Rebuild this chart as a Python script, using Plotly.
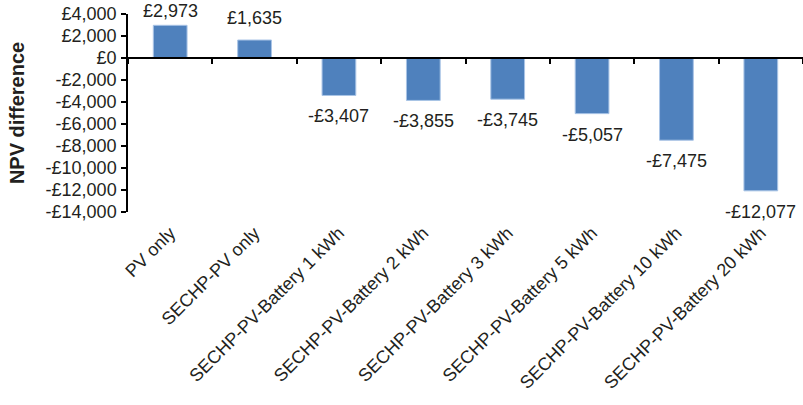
import plotly.graph_objects as go

categories = ["PV only", "SECHP-PV only", "SECHP-PV-Battery 1 kWh", "SECHP-PV-Battery 2 kWh",
              "SECHP-PV-Battery 3 kWh", "SECHP-PV-Battery 5 kWh", "SECHP-PV-Battery 10 kWh",
              "SECHP-PV-Battery 20 kWh"]
npv_diff = [2973, 1635, -3407, -3855, -3745, -5057, -7475, -12077]
y_ticks = list(range(-14000, 4001, 2000))


def gbp(v):
    return ("-£" if v < 0 else "£") + f"{abs(v):,}"


y_ticktext = [gbp(v) for v in y_ticks]
labels = [gbp(v) for v in npv_diff]

FONT = "Liberation Sans, Arial, sans-serif"
TXT = "#231F20"

# plot geometry (pixels) used to keep labels inside the chart like the original
TOP, BOTTOM_M, H = 14, 193, 405
plot_h = H - TOP - BOTTOM_M
px_per_unit = plot_h / (y_ticks[-1] - y_ticks[0])

fig = go.Figure()
fig.add_trace(go.Bar(
    x=categories, y=npv_diff,
    marker=dict(color="#4F81BD", line=dict(color="#A9C4E6", width=1)),
    width=0.4, showlegend=False, hoverinfo="skip",
))
# invisible trace to carry the category axis drawn at y = 0
fig.add_trace(go.Scatter(
    x=categories, y=[0] * len(categories), xaxis="x2", mode="markers",
    marker=dict(opacity=0), showlegend=False, hoverinfo="skip",
))

annotations = []
for c, v, t in zip(categories, npv_diff, labels):
    if v >= 0:
        bar_top_px = TOP + (y_ticks[-1] - v) * px_per_unit
        shift = max(1, min(10, bar_top_px - 23))
        annotations.append(dict(x=c, y=v, text=t, showarrow=False, yanchor="bottom",
                                yshift=shift, font=dict(family=FONT, size=18, color=TXT)))
    else:
        annotations.append(dict(x=c, y=v, text=t, showarrow=False, yanchor="top",
                                yshift=-9, font=dict(family=FONT, size=18, color=TXT)))

zero_pos = (0 - y_ticks[0]) / (y_ticks[-1] - y_ticks[0])

fig.update_layout(
    width=803, height=405,
    margin=dict(l=128, r=0, t=TOP, b=BOTTOM_M),
    paper_bgcolor="white", plot_bgcolor="white",
    font=dict(family=FONT, size=18, color=TXT),
    annotations=annotations,
    xaxis=dict(
        type="category", categoryorder="array", categoryarray=categories,
        range=[-0.5, 7.5], tickangle=-45, showline=False, ticks="",
        showgrid=False, zeroline=False, ticklabelstandoff=6,
        tickfont=dict(family=FONT, size=18, color=TXT),
    ),
    xaxis2=dict(
        type="category", categoryorder="array", categoryarray=categories,
        range=[-0.5, 7.5], overlaying="x", anchor="free", position=zero_pos,
        showline=True, linecolor="#000000", linewidth=2,
        ticks="outside", tickson="boundaries", ticklen=5, tickcolor="#000000", tickwidth=1.5,
        showticklabels=False, showgrid=False, zeroline=False,
    ),
    yaxis=dict(
        range=[y_ticks[0], y_ticks[-1]], tickvals=y_ticks, ticktext=y_ticktext,
        showline=True, linecolor="#000000", linewidth=1.5,
        ticks="outside", ticklen=5, tickcolor="#000000", tickwidth=1.5,
        showgrid=False, zeroline=False, ticklabelstandoff=1,
        tickfont=dict(family=FONT, size=18, color=TXT),
        title=dict(text="<b>NPV difference</b>", standoff=16,
                   font=dict(family=FONT, size=20, color=TXT)),
    ),
)

fig.write_html("out.html")
